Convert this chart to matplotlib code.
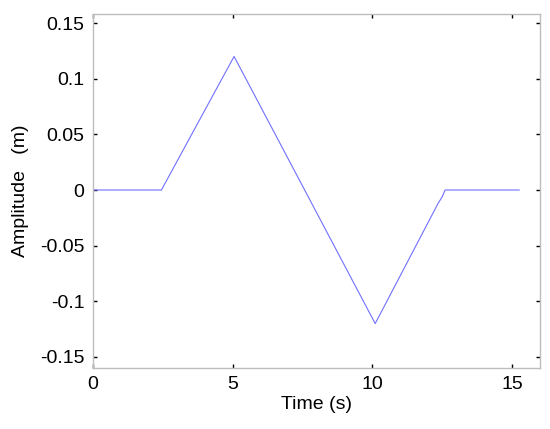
import matplotlib
matplotlib.use('Agg')
import matplotlib.pyplot as plt

plt.rcParams['font.family'] = ['Liberation Sans', 'DejaVu Sans']

# displacement record
time = [0.0, 2.45, 5.05, 10.1, 12.35, 12.5, 12.6, 15.25]
amp = [0.0, 0.0, 0.12, -0.12, -0.012, -0.006, 0.0, 0.0]

xticks = [0, 5, 10, 15]
yticks = [-0.15, -0.1, -0.05, 0, 0.05, 0.1, 0.15]
yticklabels = ['-0.15', '-0.1', '-0.05', '0', '0.05', '0.1', '0.15']

fig = plt.figure(figsize=(5.5, 4.29), dpi=100)
ax = fig.add_axes([0.169, 0.142, 0.813, 0.825])

ax.plot(time, amp, color='#7070ff', linewidth=0.8)

ax.set_xlim(0, 16)
ax.set_ylim(-0.16, 0.158)
ax.set_xticks(xticks)
ax.set_yticks(yticks)
ax.set_yticklabels(yticklabels)

ax.tick_params(direction='in', length=3, width=1, color='black',
               top=True, right=True, labelsize=14, pad=6)
for s in ax.spines.values():
    s.set_color('#bdbdbd')
    s.set_linewidth(1.0)

ax.set_xlabel('Time (s)', fontsize=14, labelpad=2)
ax.set_ylabel('Amplitude   (m)', fontsize=14, labelpad=8)

fig.savefig('out.png', dpi=100)
